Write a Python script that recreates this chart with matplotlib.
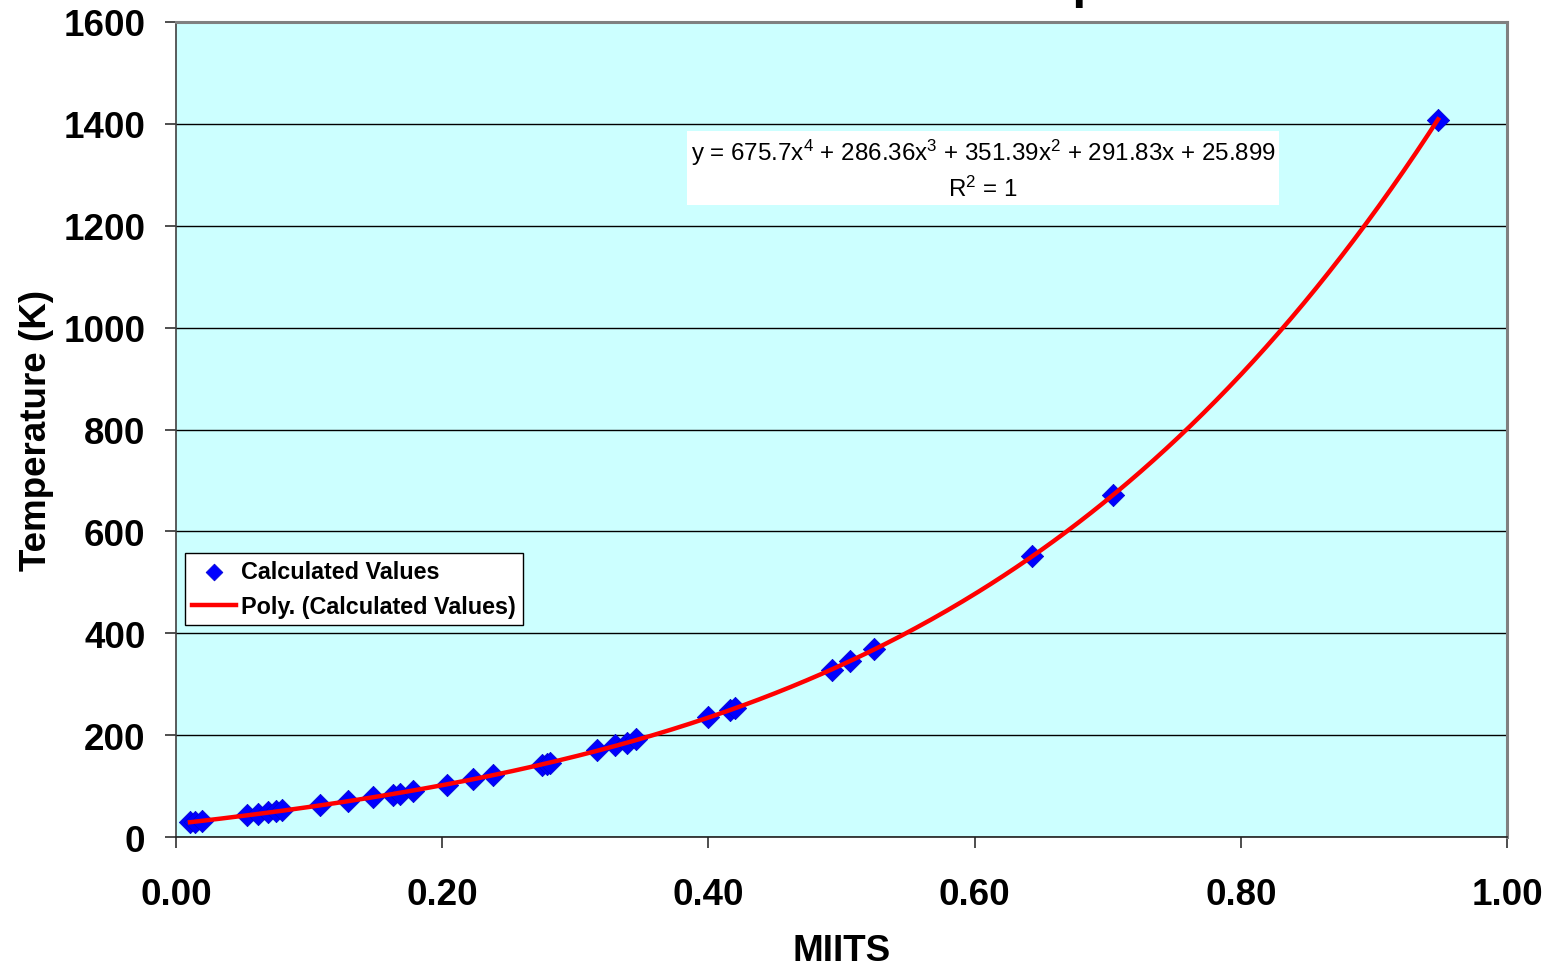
import matplotlib
matplotlib.use("Agg")
import matplotlib.pyplot as plt
import numpy as np

plt.rcParams['font.family'] = ['Liberation Sans', 'DejaVu Sans']
plt.rcParams['mathtext.fontset'] = 'custom'
plt.rcParams['mathtext.rm'] = 'Liberation Sans'
plt.rcParams['mathtext.it'] = 'Liberation Sans'

# ---- data ----
miits = [0.0105, 0.0143, 0.0195, 0.0531, 0.0618, 0.0693, 0.0751, 0.0794,
         0.1082, 0.1295, 0.1482, 0.1630, 0.1683, 0.1783, 0.2034, 0.2234,
         0.2384, 0.2748, 0.2785, 0.2810, 0.3161, 0.3298, 0.3386, 0.3456,
         0.3999, 0.4162, 0.4200, 0.4926, 0.5064, 0.5244, 0.6431, 0.7040,
         0.9482]
temperature = [29, 30, 32, 43, 46, 49, 51, 53,
               63, 71, 78, 83, 85, 90, 102, 113,
               122, 141, 143, 145, 171, 180, 185, 192,
               236, 249, 253, 328, 346, 369, 552, 671,
               1408]
# trendline coefficients (highest power first), as printed on the chart
fit_coeffs = [675.7, 286.36, 351.39, 291.83, 25.899]

x_ticks = [0.0, 0.2, 0.4, 0.6, 0.8, 1.0]
x_ticklabels = ["0.00", "0.20", "0.40", "0.60", "0.80", "1.00"]
y_ticks = [0, 200, 400, 600, 800, 1000, 1200, 1400, 1600]

W, H = 1552, 970
fig = plt.figure(figsize=(W / 100, H / 100), dpi=100)
fig.patch.set_facecolor('white')
ax = fig.add_axes([176 / W, 1 - 838 / H, (1507 - 176) / W, (838 - 23) / H])
ax.set_facecolor('#CCFFFF')

ax.set_xlim(0, 1.0)
ax.set_ylim(0, 1600)

# gridlines
ax.set_axisbelow(True)
ax.yaxis.grid(True, color='black', linewidth=1.0)
ax.xaxis.grid(False)

# trendline
xs = np.linspace(min(miits), max(miits), 400)
ys = np.polyval(fit_coeffs, xs)
ax.scatter(miits, temperature, marker='D', s=130, color='#0000FF',
           edgecolors='#0000CC', linewidths=0.5, zorder=3,
           label='Calculated Values')
ax.plot(xs, ys, color='#FF0000', linewidth=3.2, zorder=4,
        label='Poly. (Calculated Values)')

# spines
ax.spines['top'].set_color('#808080')
ax.spines['top'].set_linewidth(2.2)
ax.spines['right'].set_color('#808080')
ax.spines['right'].set_linewidth(2.2)
ax.spines['left'].set_color('#404040')
ax.spines['left'].set_linewidth(1.2)
ax.spines['bottom'].set_color('#202020')
ax.spines['bottom'].set_linewidth(1.2)

ax.set_xticks(x_ticks)
ax.set_xticklabels(x_ticklabels)
ax.set_yticks(y_ticks)
ax.tick_params(axis='both', direction='out', length=8, width=1.2,
               color='#303030', labelsize=26.5)
ax.tick_params(axis='x', pad=21)
ax.tick_params(axis='y', pad=14)
for lab in ax.get_xticklabels() + ax.get_yticklabels():
    lab.set_fontweight('bold')

ax.set_xlabel('MIITS', fontsize=26.5, fontweight='bold', labelpad=15)
ax.set_ylabel('Temperature (K)', fontsize=26.5, fontweight='bold', labelpad=7)

# equation box
eq = (r'y = 675.7x$^{4}$ + 286.36x$^{3}$ + 351.39x$^{2}$ + 291.83x + 25.899'
      '\n' r'R$^{2}$ = 1')
ax.text((983 - 176) / (1507 - 176), (838 - 170) / (838 - 23), eq,
        transform=ax.transAxes, ha='center', va='center', fontsize=17.4,
        multialignment='center', linespacing=1.45,
        bbox=dict(boxstyle='square,pad=0.15', facecolor='white',
                  edgecolor='none'), zorder=5)

# legend
leg = ax.legend(loc='upper left',
                bbox_to_anchor=((185 - 176) / (1507 - 176), (838 - 554) / (838 - 23)),
                prop={'weight': 'bold', 'size': 16.8},
                frameon=True, fancybox=False, borderpad=0.3,
                handlelength=1.9, handletextpad=0.2, labelspacing=0.5,
                borderaxespad=0, markerscale=0.75)
leg.get_frame().set_edgecolor('black')
leg.get_frame().set_linewidth(1.0)
leg.get_frame().set_facecolor('white')
leg.get_frame().set_alpha(1.0)

# cut-off title at the very top (only a descender remains visible)
title_prefix = 'MIITS vs. Tem'
title_full = 'MIITS vs. Temperature'
tmp = fig.text(0, 0, title_prefix, fontsize=36, fontweight='bold')
fig.canvas.draw()
wpx = tmp.get_window_extent().width
tmp.remove()
fig.text((1072 - wpx) / W, 1 + 2 / H, title_full, fontsize=36,
         fontweight='bold', ha='left', va='baseline')

fig.savefig('out.png', dpi=100, facecolor='white')
